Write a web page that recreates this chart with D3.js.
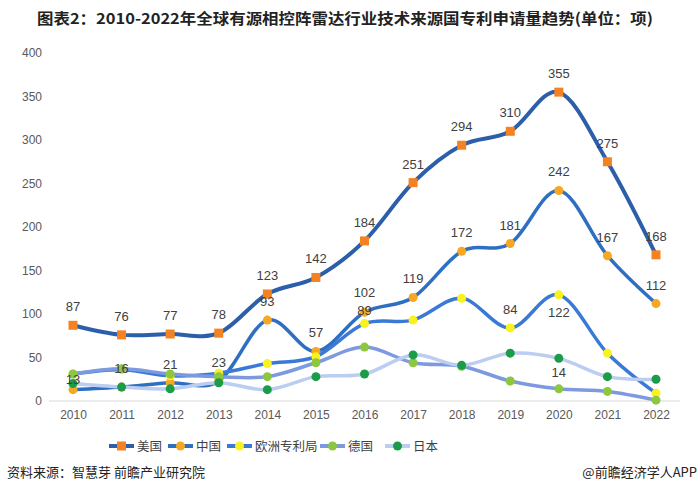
<!DOCTYPE html>
<html><head><meta charset="utf-8">
<script src="https://cdn.jsdelivr.net/npm/d3@7"></script>
<style>body{margin:0;background:#fff}svg{display:block}</style>
</head><body>
<svg id="c" width="700" height="498"></svg>
<script>
const years = ["2010","2011","2012","2013","2014","2015","2016","2017","2018","2019","2020","2021","2022"];
const usa = [87,76,77,78,123,142,184,251,294,310,355,275,168];
const china = [13,16,21,23,93,57,102,119,172,181,242,167,112];
const epo = [31,36,29,32,43,51,89,93,118,84,122,55,9];
const germany = [31,37,31,28,28,44,62,44,40,23,14,11,1];
const japan = [20,16,14,21,13,28,31,53,41,55,49,28,25];
const yTicks = [0,50,100,150,200,250,300,350,400];
const seriesNames = ["美国","中国","欧洲专利局","德国","日本"];

const series = [
  {name:seriesNames[0], values:usa, line:"#2c5ea9", marker:"#f58220", shape:"square", w:4},
  {name:seriesNames[1], values:china, line:"#2f6fc2", marker:"#f7a823", shape:"circle", w:3.5},
  {name:seriesNames[2], values:epo, line:"#3a7ad6", marker:"#f8f21e", shape:"circle", w:3.5},
  {name:seriesNames[3], values:germany, line:"#7d9ae0", marker:"#8dc63f", shape:"circle", w:3.5},
  {name:seriesNames[4], values:japan, line:"#bccdf2", marker:"#1a9c48", shape:"circle", w:3.5}
];

const svg = d3.select("#c");
const font = "'Liberation Sans','Noto Sans CJK SC',Arial,sans-serif";
const cjk = "'Noto Sans CJK SC','Liberation Sans',sans-serif";

const x = d3.scalePoint().domain(years).range([73,656]);
const y = d3.scaleLinear().domain([0,400]).range([401,53]);

// title
svg.append("text").attr("x",345).attr("y",24).attr("text-anchor","middle")
  .attr("font-family",cjk).attr("font-weight","bold").attr("font-size",15).attr("fill","#222")
  .attr("textLength",616).attr("lengthAdjust","spacingAndGlyphs")
  .text("图表2：2010-2022年全球有源相控阵雷达行业技术来源国专利申请量趋势(单位：项)");

// baseline
svg.append("line").attr("x1",49).attr("x2",680).attr("y1",y(0)).attr("y2",y(0))
  .attr("stroke","#d9d9d9").attr("stroke-width",1);

// y axis
const yAxis = d3.axisLeft(y).tickValues(yTicks).tickSize(0).tickPadding(0);
const gy = svg.append("g").attr("transform","translate(42,0)").call(yAxis);
gy.select(".domain").remove();
gy.selectAll("text").attr("font-family",font).attr("font-size",12).attr("fill","#595959");

// x axis
const xAxis = d3.axisBottom(x).tickSize(0).tickPadding(0);
const gx = svg.append("g").attr("transform","translate(0,410)").call(xAxis);
gx.select(".domain").remove();
gx.selectAll("text").attr("font-family",font).attr("font-size",12).attr("fill","#595959");

const lineGen = d3.line().x((d,i)=>x(years[i])).y(d=>y(d)).curve(d3.curveCardinal.tension(0));

function drawMarker(g, s, cx, cy){
  if(s.shape==="square"){
    g.append("rect").attr("x",cx-4.5).attr("y",cy-4.5).attr("width",9).attr("height",9).attr("fill",s.marker);
  } else {
    g.append("circle").attr("cx",cx).attr("cy",cy).attr("r",4.5).attr("fill",s.marker);
  }
}

series.forEach(s=>{
  const g = svg.append("g");
  g.append("path").attr("d",lineGen(s.values)).attr("fill","none")
    .attr("stroke",s.line).attr("stroke-width",s.w).attr("stroke-linecap","round");
  s.values.forEach((v,i)=>drawMarker(g,s,x(years[i]),y(v)));
});

// data labels
const labels = svg.append("g").attr("font-family",font).attr("font-size",13).attr("fill","#404040").attr("text-anchor","middle");
function label(arr, i, dy){
  labels.append("text").attr("x",x(years[i])).attr("y",y(arr[i])+dy).text(arr[i]);
}
usa.forEach((v,i)=>label(usa,i,-14));
china.forEach((v,i)=>{ if(i!==0 && i!==6) label(china,i,-14); });
label(china,0,-6);
label(china,6,-15);
label(epo,6,-9);
label(epo,9,-14);
label(epo,10,22);
label(germany,10,-12);

// legend
const legend = svg.append("g");
const legendX = [109,168,227,320,385];
series.forEach((s,i)=>{
  const lx = legendX[i], ly = 446;
  legend.append("line").attr("x1",lx).attr("x2",lx+25).attr("y1",ly).attr("y2",ly)
    .attr("stroke",s.line).attr("stroke-width",4);
  drawMarker(legend,s,lx+12.5,ly);
  legend.append("text").attr("x",lx+28).attr("y",ly+4.5).attr("font-family",cjk)
    .attr("font-size",12.5).attr("fill","#404040").text(s.name);
});

// footer
svg.append("text").attr("x",7).attr("y",477).attr("font-family",cjk).attr("font-size",13)
  .attr("fill","#222").text("资料来源：智慧芽 前瞻产业研究院");
svg.append("text").attr("x",697).attr("y",477).attr("text-anchor","end").attr("font-family",cjk).attr("font-size",13)
  .attr("fill","#222").text("@前瞻经济学人APP");
</script>
</body></html>
